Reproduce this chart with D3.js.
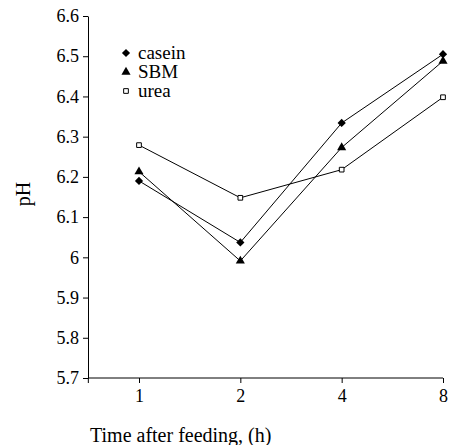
<!DOCTYPE html>
<html>
<head>
<meta charset="utf-8">
<script src="https://cdn.jsdelivr.net/npm/d3@7"></script>
<style>
  body { margin: 0; background: #fff; }
</style>
</head>
<body>
<div id="chart"></div>
<script>
var hours = ["1", "2", "4", "8"];
var casein = [6.19, 6.037, 6.334, 6.505];
var sbm = [6.213, 5.991, 6.273, 6.488];
var urea = [6.279, 6.148, 6.218, 6.398];
var yTicks = [5.7, 5.8, 5.9, 6.0, 6.1, 6.2, 6.3, 6.4, 6.5, 6.6];
var seriesNames = ["casein", "SBM", "urea"];

var serif = "'Liberation Serif', 'Times New Roman', serif";

var W = 449, H = 445,
    marginLeft = 88, marginTop = 16,
    width = 355, height = 362;

var svg = d3.select("#chart")
            .append("svg")
              .attr("width", W)
              .attr("height", H)
              .style("font-family", serif);

var g = svg.append("g")
           .attr("transform", "translate(" + marginLeft + "," + marginTop + ")");

var x = d3.scalePoint()
          .domain(hours)
          .range([51, width]);

var y = d3.scaleLinear()
          .domain([5.7, 6.6])
          .range([height, 0]);

// y axis
var yAxis = d3.axisLeft(y)
              .tickValues(yTicks)
              .tickSize(5)
              .tickSizeOuter(0)
              .tickPadding(4)
              .tickFormat(function(d){ return String(+d.toFixed(1)); });

var gy = g.append("g").call(yAxis);

// x axis, first half-band left of "1"
var xAxis = d3.axisBottom(x)
              .tickSize(5)
              .tickPadding(6);

var gx = g.append("g")
          .attr("transform", "translate(0," + height + ")")
          .call(xAxis);
var x0 = x(hours[0]) - x.step() / 2;
gx.select(".domain").attr("d", "M" + x0 + ",5V0H" + x(hours[hours.length - 1]));

g.selectAll(".domain, .tick line").attr("stroke", "#000");
g.selectAll(".tick text")
  .attr("font-family", null)
  .style("font-family", serif)
  .style("font-size", "18px")
  .attr("fill", "#000");

var diamond = {
  draw: function(ctx, size) {
    var r = Math.sqrt(size / 2);
    ctx.moveTo(0, -r); ctx.lineTo(r, 0); ctx.lineTo(0, r); ctx.lineTo(-r, 0); ctx.closePath();
  }
};

var series = [
  {name: "casein", values: casein, sym: diamond, size: 34, fill: "#000"},
  {name: "SBM", values: sbm, sym: d3.symbolTriangle, size: 36, fill: "#000"},
  {name: "urea", values: urea, sym: d3.symbolSquare, size: 22, fill: "#fff"}
];

var line = d3.line()
             .x(function(d, i){ return x(hours[i]); })
             .y(function(d){ return y(d); });

series.forEach(function(s) {
    g.append("path")
      .datum(s.values)
      .attr("d", line)
      .attr("fill", "none")
      .attr("stroke", "#000")
      .attr("stroke-width", 1);

    g.selectAll(null)
      .data(s.values)
      .enter()
      .append("path")
        .attr("transform", function(d, i){ return "translate(" + x(hours[i]) + "," + y(d) + ")"; })
        .attr("d", d3.symbol(s.sym, s.size))
        .attr("fill", s.fill)
        .attr("stroke", "#000")
        .attr("stroke-width", s.fill == "#fff" ? 1 : 0);
});

// legend
var legend = svg.append("g").attr("transform", "translate(126,53)");
series.forEach(function(s, i) {
    var row = legend.append("g").attr("transform", "translate(0," + (i * 19) + ")");
    row.append("path")
       .attr("d", d3.symbol(s.sym, s.size))
       .attr("fill", s.fill)
       .attr("stroke", "#000")
       .attr("stroke-width", s.fill == "#fff" ? 1 : 0);
    row.append("text")
       .attr("x", 12)
       .attr("y", 6)
       .style("font-family", serif)
       .style("font-size", "19px")
       .text(seriesNames[i]);
});

// axis titles
svg.append("text")
   .attr("transform", "translate(30,194) rotate(-90)")
   .attr("text-anchor", "middle")
   .style("font-family", serif)
   .style("font-size", "20px")
   .text("pH");

svg.append("text")
   .attr("x", 90)
   .attr("y", 442)
   .style("font-family", serif)
   .style("font-size", "20px")
   .text("Time after feeding, (h)");
</script>
</body>
</html>
